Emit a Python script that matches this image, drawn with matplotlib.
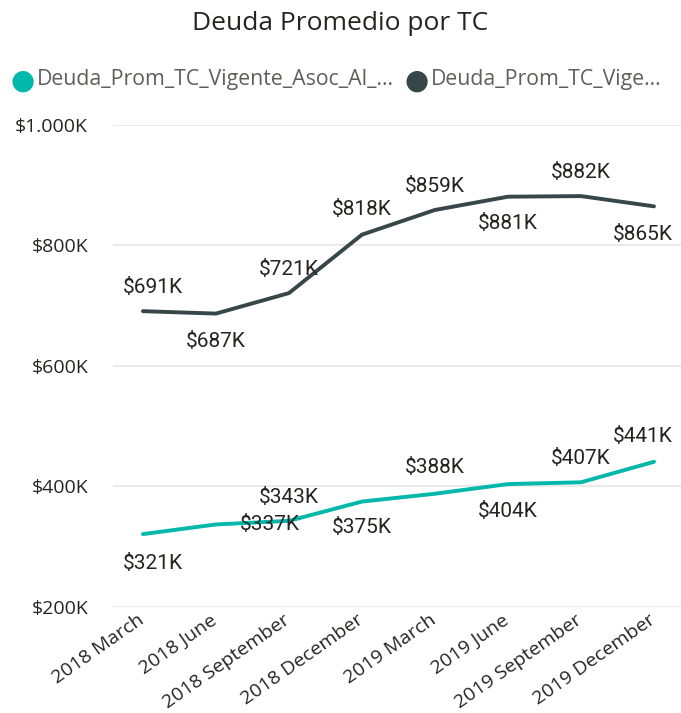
import matplotlib.pyplot as plt
import matplotlib.transforms as mtransforms
import numpy as np

# data (values in $K)
meses = ['2018 March', '2018 June', '2018 September', '2018 December',
         '2019 March', '2019 June', '2019 September', '2019 December']
asoc = [321, 337, 343, 375, 388, 404, 407, 441]
vigente = [691, 687, 721, 818, 859, 881, 882, 865]
leyenda = ['Deuda_Prom_TC_Vigente_Asoc_Al_...', 'Deuda_Prom_TC_Vige...']
yticks = [200, 400, 600, 800, 1000]

TEAL = '#01B8AA'
DARK = '#374649'

fig = plt.figure(figsize=(6.81, 7.13), dpi=100)
ax = fig.add_axes([113/681, 106/713, 568/681, 482/713])

x = np.arange(len(meses))
ax.plot(x, asoc, color=TEAL, lw=2.8, solid_capstyle='round', zorder=3)
ax.plot(x, vigente, color=DARK, lw=2.8, solid_capstyle='round', zorder=3)

ax.set_xlim(-0.41, 7.37)
ax.set_ylim(200, 1000)
ax.set_yticks(yticks)
ax.set_yticklabels(['${:,}K'.format(v).replace(',', '.') for v in yticks],
                   fontsize=14, color='#252423', family='Open Sans')
ax.yaxis.grid(True, color='#E6E6E6', lw=1.2)
ax.set_axisbelow(True)
ax.tick_params(axis='y', length=0, pad=18)
ax.tick_params(axis='x', length=0, pad=3)
ax.set_xticks(x)
ax.set_xticklabels(meses, rotation=35, ha='right', rotation_mode='anchor',
                   fontsize=14, color='#252423', family='Open Sans')
shift = mtransforms.ScaledTranslation(-6/100, 0, fig.dpi_scale_trans)
for lab in ax.get_xticklabels():
    lab.set_transform(lab.get_transform() + shift)
for s in ax.spines.values():
    s.set_visible(False)

# label offsets in points (dx, dy) -- Power BI placement
off_v = [(7, 17), (0, -20), (0, 17), (0, 18), (0, 17), (0, -19), (0, 17), (-8, -20)]
off_a = [(7, -21), (39, 0), (0, 17), (0, -19), (0, 19), (0, -20), (0, 17), (-8, 18)]
for i in range(len(meses)):
    ax.annotate('${}K'.format(vigente[i]), (x[i], vigente[i]), xytext=off_v[i],
                textcoords='offset points', ha='center', va='center',
                fontsize=15, color='#252423', family='Roboto', zorder=4)
    ax.annotate('${}K'.format(asoc[i]), (x[i], asoc[i]), xytext=off_a[i],
                textcoords='offset points', ha='center', va='center',
                fontsize=15, color='#252423', family='Roboto', zorder=4)

fig.text(0.5, 1 - 23/713, 'Deuda Promedio por TC', ha='center', va='center',
         fontsize=19, color='#252423', family='Open Sans')

# legend drawn by hand to mimic the truncated Power BI legend
fig.text(10/681, 1 - 81/713, '\u25CF', color=TEAL, fontsize=20, va='center', ha='left',
         family='DejaVu Sans')
fig.text(37/681, 1 - 80/713, leyenda[0], color='#605E5C', fontsize=15.3, va='center',
         ha='left', family='Open Sans')
fig.text(405/681, 1 - 81/713, '\u25CF', color=DARK, fontsize=20, va='center', ha='left',
         family='DejaVu Sans')
fig.text(431/681, 1 - 80/713, leyenda[1], color='#605E5C', fontsize=15.3, va='center',
         ha='left', family='Open Sans')

fig.savefig('out.png', dpi=100)
